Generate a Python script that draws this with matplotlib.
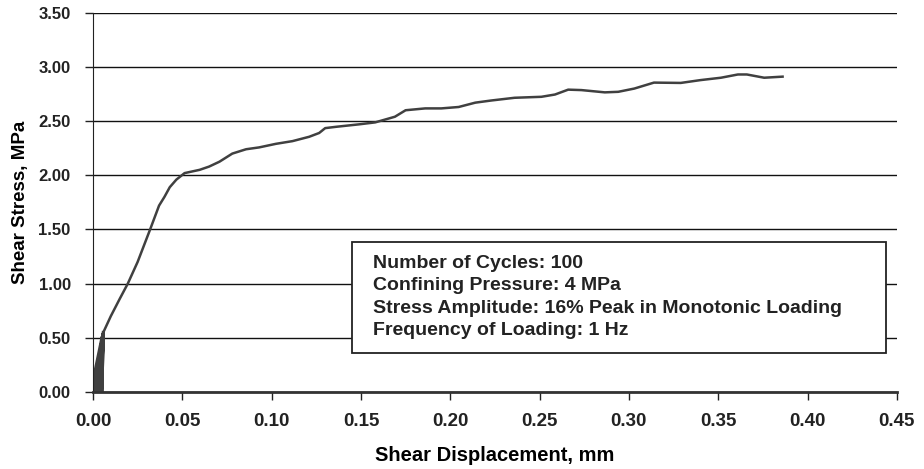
import numpy as np
import matplotlib
matplotlib.use('Agg')
import matplotlib.pyplot as plt
from matplotlib.patches import Rectangle

plt.rcParams['font.family'] = ['Liberation Sans', 'DejaVu Sans']
plt.rcParams['font.weight'] = 'bold'

# cyclic loading part (loops near the origin)
cyc_x = [0.0000, 0.0010, 0.0050, 0.0015, 0.0052, 0.0020, 0.0054, 0.0025,
         0.0055, 0.0030, 0.0056, 0.0035, 0.0057, 0.0040, 0.0057, 0.0045,
         0.0058, 0.0050, 0.0058]
cyc_y = [0.00, 0.18, 0.50, 0.00, 0.51, 0.00, 0.52, 0.00,
         0.52, 0.00, 0.53, 0.00, 0.53, 0.00, 0.54, 0.00,
         0.54, 0.00, 0.55]

# monotonic curve after cycling
disp = [0.0058, 0.0100, 0.0150, 0.0195, 0.0250, 0.0320, 0.0370, 0.0400,
        0.0430, 0.0467, 0.0513, 0.0597, 0.0650, 0.0708, 0.0780, 0.0857,
        0.0930, 0.1024, 0.1117, 0.1210, 0.1266, 0.1300, 0.1360, 0.1490,
        0.1580, 0.1690, 0.1750, 0.1860, 0.1950, 0.2047, 0.2140, 0.2230,
        0.2360, 0.2510, 0.2586, 0.2660, 0.2734, 0.2865, 0.2940, 0.3030,
        0.3140, 0.3290, 0.3400, 0.3515, 0.3610, 0.3660, 0.3757, 0.3860]
stress = [0.55, 0.70, 0.86, 1.00, 1.20, 1.50, 1.72, 1.80,
          1.89, 1.96, 2.02, 2.05, 2.08, 2.125, 2.20, 2.24,
          2.257, 2.29, 2.315, 2.355, 2.39, 2.435, 2.447, 2.47,
          2.488, 2.54, 2.60, 2.617, 2.617, 2.63, 2.67, 2.69,
          2.715, 2.724, 2.745, 2.79, 2.786, 2.765, 2.77, 2.80,
          2.855, 2.852, 2.878, 2.90, 2.93, 2.93, 2.90, 2.91]

info = ['Number of Cycles: 100',
        'Confining Pressure: 4 MPa',
        'Stress Amplitude: 16% Peak in Monotonic Loading',
        'Frequency of Loading: 1 Hz']

fig = plt.figure(figsize=(9.24, 4.69), dpi=100)
ax = fig.add_axes([0.1006, 0.1642, 0.8701, 0.8087])

ax.plot(cyc_x, cyc_y, color='#404040', lw=2.2)
ax.plot(disp, stress, color='#404040', lw=1.8)

ax.set_xlim(0, 0.45)
ax.set_ylim(0, 3.5)
ax.set_xticks(np.arange(0, 0.451, 0.05))
ax.set_yticks(np.arange(0, 3.51, 0.5))
ax.xaxis.set_major_formatter(matplotlib.ticker.FormatStrFormatter('%.2f'))
ax.yaxis.set_major_formatter(matplotlib.ticker.FormatStrFormatter('%.2f'))
ax.tick_params(direction='out', length=6, width=1, colors='#222222')
ax.tick_params(axis='x', labelsize=13.5, pad=9)
ax.tick_params(axis='y', labelsize=12, pad=10)
ax.grid(axis='y', color='#111111', lw=1)
ax.set_axisbelow(True)

for s in ['top', 'right']:
    ax.spines[s].set_visible(False)
ax.spines['left'].set_color('#222222')
ax.spines['bottom'].set_color('#333333')
ax.spines['bottom'].set_linewidth(2)

ax.set_xlabel('Shear Displacement, mm', fontsize=14.5, fontweight='bold', labelpad=12)
ax.set_ylabel('Shear Stress, MPa', fontsize=13.5, fontweight='bold', labelpad=7)

# info box
ax.add_patch(Rectangle((0.145, 0.36), 0.2988, 1.024, fc='white', ec='#222222',
                       lw=1.3, zorder=3))
for i, line in enumerate(info):
    ax.text(0.1565, 1.144 - i * 0.206, line, fontsize=14, fontweight='bold',
            color='#222222', va='baseline', ha='left', zorder=4)

fig.savefig('out.png', dpi=100)
